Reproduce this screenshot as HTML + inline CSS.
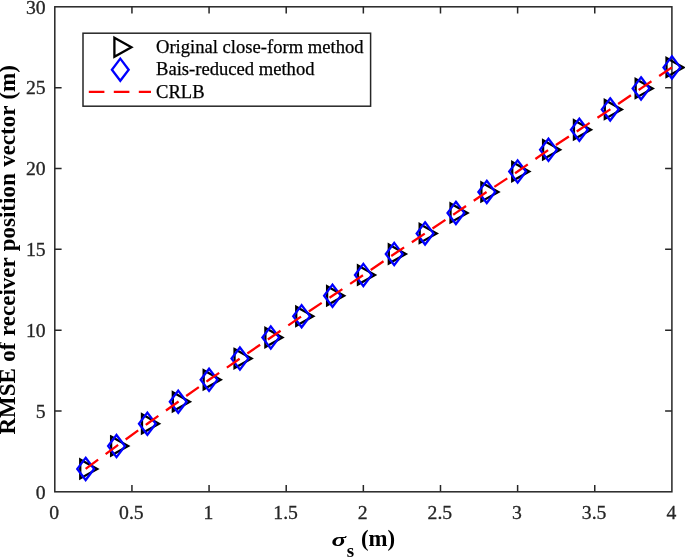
<!DOCTYPE html>
<html lang="en">
<head>
<meta charset="utf-8">
<title>RMSE of receiver position vector</title>
<style>
html,body{margin:0;padding:0;background:#fff;}
body{width:685px;height:557px;overflow:hidden;}
svg{display:block;}
text{font-family:"Liberation Serif","Times New Roman",serif;fill:#262626;}
.tick{font-size:19.7px;stroke:#262626;stroke-width:0.3px;}
.leg{font-size:18.6px;fill:#000;stroke:#000;stroke-width:0.25px;}
.lab{font-weight:bold;fill:#000;}
</style>
</head>
<body>
<svg width="685" height="557" viewBox="0 0 685 557">
<rect x="0" y="0" width="685" height="557" fill="#ffffff"/>
<rect x="54.8" y="6.8" width="617.10" height="485.00" fill="#fff" stroke="#262626" stroke-width="1.5"/>
<path d="M131.94 491.8V485.00M131.94 6.8V13.60M209.07 491.8V485.00M209.07 6.8V13.60M286.21 491.8V485.00M286.21 6.8V13.60M363.35 491.8V485.00M363.35 6.8V13.60M440.49 491.8V485.00M440.49 6.8V13.60M517.62 491.8V485.00M517.62 6.8V13.60M594.76 491.8V485.00M594.76 6.8V13.60M54.8 410.97H61.60M671.9 410.97H665.10M54.8 330.13H61.60M671.9 330.13H665.10M54.8 249.30H61.60M671.9 249.30H665.10M54.8 168.47H61.60M671.9 168.47H665.10M54.8 87.63H61.60M671.9 87.63H665.10" fill="none" stroke="#262626" stroke-width="1.5"/>
<text class="tick" x="54.20" y="518.9" text-anchor="middle">0</text>
<text class="tick" x="131.34" y="518.9" text-anchor="middle">0.5</text>
<text class="tick" x="208.47" y="518.9" text-anchor="middle">1</text>
<text class="tick" x="285.61" y="518.9" text-anchor="middle">1.5</text>
<text class="tick" x="362.75" y="518.9" text-anchor="middle">2</text>
<text class="tick" x="439.89" y="518.9" text-anchor="middle">2.5</text>
<text class="tick" x="517.02" y="518.9" text-anchor="middle">3</text>
<text class="tick" x="594.16" y="518.9" text-anchor="middle">3.5</text>
<text class="tick" x="671.30" y="518.9" text-anchor="middle">4</text>
<text class="tick" x="45.7" y="498.60" text-anchor="end">0</text>
<text class="tick" x="45.7" y="417.77" text-anchor="end">5</text>
<text class="tick" x="45.7" y="336.93" text-anchor="end">10</text>
<text class="tick" x="45.7" y="256.10" text-anchor="end">15</text>
<text class="tick" x="45.7" y="175.27" text-anchor="end">20</text>
<text class="tick" x="45.7" y="94.43" text-anchor="end">25</text>
<text class="tick" x="45.7" y="13.60" text-anchor="end">30</text>
<text class="lab" font-size="23" word-spacing="0.7" transform="translate(15.4 249.8) rotate(-90)" text-anchor="middle">RMSE of receiver position vector (m)</text>
<text class="lab" font-size="24" font-style="italic" transform="translate(331.6 546.0) scale(1.13 0.75)">σ</text>
<text class="lab" x="346.8" y="557.2" font-size="19">s</text>
<text class="lab" x="360.9" y="545.6" font-size="22.8">(m)</text>
<path d="M80.25 459.40L97.25 468.90L80.25 478.40ZM111.11 436.60L128.11 446.10L111.11 455.60ZM141.97 414.20L158.97 423.70L141.97 433.20ZM172.82 392.20L189.82 401.70L172.82 411.20ZM203.67 370.30L220.67 379.80L203.67 389.30ZM234.53 349.10L251.53 358.60L234.53 368.10ZM265.39 328.00L282.39 337.50L265.39 347.00ZM296.24 306.70L313.24 316.20L296.24 325.70ZM327.10 286.20L344.10 295.70L327.10 305.20ZM357.95 265.50L374.95 275.00L357.95 284.50ZM388.81 244.50L405.81 254.00L388.81 263.50ZM419.66 223.90L436.66 233.40L419.66 242.90ZM450.52 203.40L467.52 212.90L450.52 222.40ZM481.37 182.40L498.37 191.90L481.37 201.40ZM512.23 162.00L529.23 171.50L512.23 181.00ZM543.08 140.30L560.08 149.80L543.08 159.30ZM573.94 120.20L590.94 129.70L573.94 139.20ZM604.79 99.90L621.79 109.40L604.79 118.90ZM635.65 78.90L652.65 88.40L635.65 97.90ZM666.50 57.90L683.50 67.40L666.50 76.90Z" fill="none" stroke="#000" stroke-width="2.3" stroke-linejoin="miter"/>
<path d="M85.66 457.80L94.06 468.90L85.66 480.00L77.25 468.90ZM116.51 435.00L124.91 446.10L116.51 457.20L108.11 446.10ZM147.37 412.60L155.77 423.70L147.37 434.80L138.97 423.70ZM178.22 390.60L186.62 401.70L178.22 412.80L169.82 401.70ZM209.07 368.70L217.47 379.80L209.07 390.90L200.67 379.80ZM239.93 347.50L248.33 358.60L239.93 369.70L231.53 358.60ZM270.79 326.40L279.19 337.50L270.79 348.60L262.39 337.50ZM301.64 305.10L310.04 316.20L301.64 327.30L293.24 316.20ZM332.50 284.60L340.89 295.70L332.50 306.80L324.10 295.70ZM363.35 263.90L371.75 275.00L363.35 286.10L354.95 275.00ZM394.21 242.90L402.61 254.00L394.21 265.10L385.81 254.00ZM425.06 222.30L433.46 233.40L425.06 244.50L416.66 233.40ZM455.92 201.80L464.31 212.90L455.92 224.00L447.52 212.90ZM486.77 180.80L495.17 191.90L486.77 203.00L478.37 191.90ZM517.62 160.40L526.02 171.50L517.62 182.60L509.23 171.50ZM548.48 138.70L556.88 149.80L548.48 160.90L540.08 149.80ZM579.34 118.60L587.74 129.70L579.34 140.80L570.94 129.70ZM610.19 98.30L618.59 109.40L610.19 120.50L601.79 109.40ZM641.05 77.30L649.45 88.40L641.05 99.50L632.65 88.40ZM671.90 56.30L680.30 67.40L671.90 78.50L663.50 67.40Z" fill="none" stroke="#0000ff" stroke-width="2.3" stroke-linejoin="miter"/>
<polyline points="85.66,468.90 116.51,446.10 147.37,423.70 178.22,401.70 209.07,379.80 239.93,358.60 270.79,337.50 301.64,316.20 332.50,295.70 363.35,275.00 394.21,254.00 425.06,233.40 455.92,212.90 486.77,191.90 517.62,171.50 548.48,149.80 579.34,129.70 610.19,109.40 641.05,88.40 671.90,67.40" fill="none" stroke="#ff0000" stroke-width="2.3" stroke-dasharray="15.5 9.33"/>
<rect x="83" y="33.2" width="287.6" height="73" fill="#fff" stroke="#262626" stroke-width="1.5"/>
<path d="M114.40 37.70L131.40 47.20L114.40 56.70Z" fill="none" stroke="#000" stroke-width="2.3"/>
<path d="M120.30 58.60L128.70 69.70L120.30 80.80L111.90 69.70Z" fill="none" stroke="#0000ff" stroke-width="2.3"/>
<path d="M88.8 91.8H151" fill="none" stroke="#ff0000" stroke-width="2.3" stroke-dasharray="15.6 9.4"/>
<text class="leg" x="156" y="52.9">Original close-form method</text>
<text class="leg" x="156" y="75.4">Bais-reduced method</text>
<text class="leg" x="156" y="98.1">CRLB</text>
</svg>
</body>
</html>
